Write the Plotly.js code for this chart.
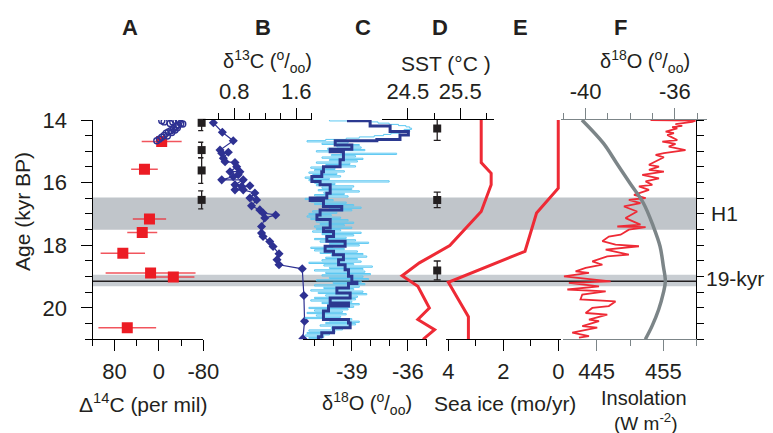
<!DOCTYPE html>
<html><head><meta charset="utf-8">
<script src="https://cdn.plot.ly/plotly-3.0.1.min.js"></script>
<style>html,body{margin:0;padding:0;background:#fff}#chart{width:773px;height:433px}</style>
</head><body><div id="chart"></div>
<script>
// ---------- DATA ----------
// Panel A: Delta14C (per mil)
const aAge = [14.69, 15.57, 17.16, 17.59, 18.25, 18.88, 19.01, 20.63];
const aD14C = [-5, 26, 17, 30, 65, 15, -26, 57];
const aErr = [36, 24, 30, 27, 40, 81, 38, 52];
const circAge = [14.66,14.61,14.55,14.49,14.42,14.38,14.34,14.28,14.21,14.16,14.11,14.13,14.04,14.02,14.06,14.11,14.02,14.06,14.32,14.40,14.51,14.25];
const circD14C = [3.8,-0.9,-5.2,-9.4,-13,-17.1,-21.4,-26.1,-30.9,-35.1,-39.4,-43,-36.9,-30.9,-25,-20.2,-5.2,-9.4,-29.1,-23.2,-15.3,-33.3];
// dating points (black squares)
const datAge = [14.09, 14.96, 15.61, 16.55];
const datErr = [0.25, 0.25, 0.41, 0.29];
const sstPtAge = [14.27, 16.55, 18.8];
const sstPtErr = [0.38, 0.25, 0.3];
const sstPtVal = [25.06, 25.06, 25.06];
// Panel B: d13C
const bAge = [14.09,14.39,14.66,14.96,15.06,15.03,15.22,15.33,15.36,15.49,15.65,15.65,15.75,15.81,15.91,15.91,16.07,16.12,16.10,16.23,16.23,16.33,16.49,16.55,16.74,16.87,16.97,17.03,17.13,17.40,17.61,17.72,17.88,18.04,18.27,18.46,18.62,18.75,19.60,20.42,20.98];
const bD13C = [0.530,0.646,0.787,0.616,0.638,0.723,0.659,0.681,0.809,0.831,0.745,0.873,0.851,0.787,0.638,0.916,0.809,0.895,1.002,0.809,0.916,1.066,1.002,1.088,1.023,1.130,1.172,1.335,1.194,1.152,1.152,1.172,1.258,1.301,1.378,1.352,1.378,1.678,1.699,1.708,1.686];
// Panel C: d18O high-res (cyan) and smoothed step (dark blue)
const cyanAge = [14.00,14.03,14.06,14.10,14.14,14.18,14.22,14.26,14.30,14.34,
14.38,14.42,14.46,14.50,14.54,14.58,14.62,14.66,14.70,14.74,
14.78,14.82,14.86,14.90,14.94,14.98,15.02,15.06,15.10,15.14,
15.18,15.22,15.26,15.30,15.34,15.38,15.42,15.46,15.50,15.54,
15.58,15.62,15.66,15.70,15.74,15.78,15.82,15.86,15.90,15.94,
15.98,16.02,16.06,16.10,16.14,16.18,16.22,16.26,16.30,16.34,
16.38,16.42,16.46,16.50,16.54,16.58,16.62,16.66,16.70,16.74,
16.78,16.82,16.86,16.90,16.94,16.98,17.02,17.06,17.10,17.14,
17.18,17.22,17.26,17.30,17.34,17.38,17.42,17.46,17.50,17.54,
17.58,17.62,17.66,17.70,17.74,17.78,17.82,17.86,17.90,17.94,
17.98,18.02,18.06,18.10,18.14,18.18,18.22,18.26,18.30,18.34,
18.38,18.42,18.46,18.50,18.54,18.58,18.62,18.66,18.70,18.74,
18.78,18.82,18.86,18.90,18.94,18.98,19.02,19.06,19.10,19.14,
19.18,19.22,19.26,19.30,19.34,19.38,19.42,19.46,19.50,19.54,
19.58,19.62,19.66,19.70,19.74,19.78,19.82,19.86,19.90,19.94,
19.98,20.02,20.06,20.10,20.14,20.18,20.22,20.26,20.30,20.34,
20.38,20.42,20.46,20.50,20.54,20.58,20.62,20.66,20.70,20.74,
20.78,20.82,20.86,20.90,20.94,20.98];
const cyanD18O = [-40.2,-38.1,-37.6,-37.0,-36.5,-36.1,-35.9,-35.8,-36.2,-35.9,
-36.4,-36.9,-37.3,-37.8,-38.6,-39.3,-40.4,-41.4,-39.2,-40.6,
-38.6,-39.8,-38.5,-40.3,-38.3,-40.9,-39.6,-36.6,-40.1,-38.8,
-40.6,-38.4,-40.2,-38.7,-40.9,-39.1,-40.4,-38.8,-41.2,-39.9,
-41.0,-39.4,-41.3,-39.8,-41.1,-39.6,-41.5,-40.2,-41.3,-37.0,
-41.0,-39.9,-40.9,-38.9,-40.6,-39.0,-40.8,-38.6,-40.5,-39.4,
-41.0,-39.2,-40.9,-41.5,-40.0,-41.2,-39.3,-41.0,-38.9,-40.6,
-38.5,-40.2,-39.0,-41.1,-39.8,-41.3,-40.1,-41.4,-39.6,-41.2,
-39.2,-40.9,-38.9,-40.7,-39.4,-41.0,-39.0,-40.9,-39.6,-41.1,
-38.5,-40.6,-38.9,-40.4,-39.3,-41.0,-38.8,-40.7,-38.1,-40.2,
-38.6,-40.0,-41.2,-39.4,-41.0,-38.7,-40.7,-38.4,-40.1,-38.2,
-40.4,-38.7,-40.6,-38.5,-41.3,-38.9,-40.5,-37.9,-40.2,-38.4,
-41.0,-38.3,-40.4,-38.0,-40.6,-38.4,-40.2,-38.1,-40.9,-38.5,
-40.0,-38.3,-41.0,-38.6,-40.5,-38.9,-41.2,-38.4,-40.8,-38.2,
-40.4,-38.7,-41.0,-38.8,-41.2,-39.0,-40.6,-38.6,-40.3,-38.9,
-41.3,-39.2,-41.0,-39.5,-41.4,-39.3,-40.9,-39.6,-41.5,-39.0,
-40.2,-38.6,-40.4,-38.8,-40.7,-39.1,-40.1,-39.5,-41.3,-39.9,
-41.4,-40.2,-41.5,-40.5,-41.3,-40.6];
const stepAge = [14.00,14.02,14.19,14.37,14.48,14.62,14.66,14.80,14.93,15.01,
15.27,15.49,15.65,15.80,15.96,16.07,16.34,16.49,16.57,16.76,
16.87,17.03,17.18,17.45,17.56,17.72,17.87,18.03,18.19,18.30,
18.46,18.62,18.78,18.99,19.18,19.22,19.36,19.52,19.68,19.84,
19.94,20.10,20.37,20.48,20.63,20.79,20.92,21.00];
const stepD18O = [-39.18,-38.02,-36.95,-35.97,-36.42,-37.66,-39.89,-39.00,-40.16,-39.45,
-39.63,-40.52,-40.61,-41.14,-40.70,-40.16,-40.34,-41.23,-40.52,-39.54,
-40.70,-40.87,-40.16,-40.52,-39.98,-40.34,-39.36,-40.43,-39.98,-39.45,
-39.71,-39.36,-39.18,-39.00,-38.73,-39.18,-39.80,-39.09,-40.16,-39.18,
-40.25,-40.52,-39.18,-39.09,-39.98,-40.61,-40.79,-40.79];
// Panel D: SST
const sstAge = [14.0, 15.36, 15.70, 16.07, 16.92, 18.01, 18.56, 18.97, 19.31, 20.0, 20.37, 20.69, 21.0];
const sstVal = [25.90, 25.90, 26.09, 26.09, 25.90, 25.30, 24.72, 24.39, 24.69, 24.91, 24.69, 25.01, 24.79];
// Panel E: sea ice
const iceAge = [14.0, 16.18, 16.97, 18.19, 19.18, 20.28, 21.0];
const iceVal = [0, 0, 0.79, 1.21, 4.0, 3.27, 3.27];
// Panel F: Greenland d18O and insolation
const fAge = [14.00,14.02,14.06,14.13,14.19,14.23,14.27,14.37,14.42,14.48,
14.53,14.64,14.69,14.76,14.85,14.96,15.06,15.11,15.19,15.27,
15.43,15.49,15.59,15.65,15.75,15.86,15.96,16.07,16.12,16.23,
16.39,16.49,16.55,16.65,16.76,16.92,17.03,17.13,17.34,17.40,
17.42,17.50,17.66,17.72,17.87,17.98,18.03,18.14,18.30,18.35,
18.51,18.62,18.72,18.83,18.88,18.99,19.15,19.20,19.31,19.41,
19.47,19.57,19.73,19.79,19.94,20.00,20.16,20.21,20.37,20.42,
20.58,20.63,20.79,20.90,20.95];
const fD18O = [-37.09,-35.07,-35.22,-35.97,-35.67,-36.12,-35.89,-36.41,-36.04,-36.34,
-36.19,-35.89,-36.56,-35.97,-36.27,-35.52,-36.49,-36.86,-36.49,-36.71,
-37.16,-36.71,-37.16,-36.49,-37.46,-36.71,-37.31,-37.01,-37.61,-37.16,
-37.83,-37.31,-38.06,-37.54,-38.28,-37.69,-37.98,-38.21,-37.54,-38.58,
-37.31,-38.06,-38.43,-38.96,-39.25,-38.66,-37.61,-39.10,-38.06,-39.03,
-39.70,-39.25,-40.00,-40.45,-39.85,-40.97,-38.88,-40.75,-39.40,-40.82,
-39.10,-40.15,-40.23,-38.66,-38.96,-39.70,-40.00,-39.03,-39.85,-39.40,
-40.15,-39.48,-40.60,-39.85,-40.30];
const insAge = [14.0, 14.74, 15.38, 16.02, 16.65, 17.40, 18.03, 18.67, 19.15, 19.52, 20.05, 20.58, 21.0];
const insVal = [442.8, 446.0, 448.0, 450.0, 452.0, 453.5, 454.5, 455.0, 455.3, 455.0, 454.3, 453.3, 452.3];
// events
const h1Band = [16.47, 17.5];
const k19Band = [18.94, 19.31];
const k19Line = 19.15;
// tick labels
const ageMajor = [14, 16, 18, 20];
const ageMinor = [14.5,15,15.5,16.5,17,17.5,18.5,19,19.5,20.5,21];

// ---------- LAYOUT HELPERS ----------
const W = 773, H = 433;
const px = v => v / W;
const py = v => 1 - v / H;
const RED = '#ee2a35', BLUE = '#2e3192', CYAN = '#5cc8f2', GREY = 'rgb(124,133,136)', TXT = '#231f20';
const FONT = 'Liberation Sans, Arial, Helvetica, sans-serif';

function xax(dom, range, side, major, minor, opts) {
  opts = opts || {};
  const col = opts.color || '#000';
  return Object.assign({
    domain: [px(dom[0]), px(dom[1])], range: range, anchor: 'y', side: side,
    showgrid: false, zeroline: false, showline: true, linecolor: col, linewidth: 1,
    ticks: 'outside', ticklen: 11, tickcolor: col, tickwidth: 1,
    tickmode: 'array', tickvals: major, ticktext: major.map(String),
    minor: {tickmode: 'array', tickvals: minor, ticklen: 6, ticks: 'outside', tickcolor: col, tickwidth: 1},
    tickfont: {size: 22, color: TXT, family: FONT},
    ticklabelstandoff: side === 'top' ? 0 : 1,
    fixedrange: true, automargin: false
  }, opts.extra || {});
}

const traces = [
  {x: aD14C, y: aAge, xaxis: 'x', yaxis: 'y', mode: 'markers', type: 'scatter',
   marker: {symbol: 'square', size: 11, color: '#ec1c24'},
   error_x: {type: 'data', array: aErr, color: 'rgba(238,42,53,0.8)', thickness: 1.5, width: 0}},
  {x: circD14C, y: circAge, xaxis: 'x', yaxis: 'y', mode: 'markers', type: 'scatter',
   marker: {symbol: 'circle-open', size: 6, color: BLUE, line: {width: 1.4, color: BLUE}}},
  {x: datAge.map(() => -77), y: datAge, xaxis: 'x', yaxis: 'y', mode: 'markers', type: 'scatter', cliponaxis: false,
   marker: {symbol: 'square', size: 8, color: '#231f20'},
   error_y: {type: 'data', array: datErr, color: '#231f20', thickness: 1.3, width: 3.5}},
  {x: bD13C, y: bAge, xaxis: 'x2', yaxis: 'y', mode: 'lines+markers', type: 'scatter',
   line: {color: BLUE, width: 1.2}, marker: {symbol: 'diamond', size: 7, color: BLUE}},
  {x: cyanD18O, y: cyanAge, xaxis: 'x3', yaxis: 'y', mode: 'lines', type: 'scatter',
   line: {color: CYAN, width: 1, shape: 'vh'}},
  {x: stepD18O, y: stepAge, xaxis: 'x3', yaxis: 'y', mode: 'lines', type: 'scatter',
   line: {color: '#2b3990', width: 3, shape: 'vh'}},
  {x: sstVal, y: sstAge, xaxis: 'x4', yaxis: 'y', mode: 'lines', type: 'scatter',
   line: {color: RED, width: 3}},
  {x: sstPtVal, y: sstPtAge, xaxis: 'x4', yaxis: 'y', mode: 'markers', type: 'scatter',
   marker: {symbol: 'square', size: 8, color: '#231f20'},
   error_y: {type: 'data', array: sstPtErr, color: '#231f20', thickness: 1.3, width: 3.5}},
  {x: iceVal, y: iceAge, xaxis: 'x5', yaxis: 'y', mode: 'lines', type: 'scatter',
   line: {color: RED, width: 3}},
  {x: insVal, y: insAge, xaxis: 'x7', yaxis: 'y', mode: 'lines', type: 'scatter',
   line: {color: GREY, width: 3.5, shape: 'spline'}},
  {x: fD18O, y: fAge, xaxis: 'x6', yaxis: 'y', mode: 'lines', type: 'scatter',
   line: {color: RED, width: 1.8}},
  {x: [null], y: [null], xaxis: 'x', yaxis: 'y2', mode: 'markers', type: 'scatter', hoverinfo: 'skip'}
];

function ann(text, x, y, size, extra) {
  return Object.assign({text: text, x: px(x), y: py(y), xref: 'paper', yref: 'paper',
    xanchor: 'center', yanchor: 'middle', showarrow: false,
    font: {size: size, color: TXT, family: FONT}}, extra || {});
}

const layout = {
  width: W, height: H, margin: {l: 0, r: 0, t: 0, b: 0},
  paper_bgcolor: '#fff', plot_bgcolor: 'rgba(0,0,0,0)', showlegend: false,
  font: {family: FONT, color: TXT},
  yaxis: {domain: [py(339.3), py(120)], range: [21, 14], anchor: 'free', position: px(92.3),
    showgrid: false, zeroline: false, showline: true, linecolor: '#000', linewidth: 1,
    ticks: 'outside', ticklen: 11, tickcolor: '#000', tickmode: 'array',
    tickvals: ageMajor, ticktext: ageMajor.map(String),
    minor: {tickmode: 'array', tickvals: ageMinor, ticklen: 7, ticks: 'outside', tickcolor: '#000'},
    tickfont: {size: 22, color: TXT, family: FONT}, ticklabelstandoff: 10,
    fixedrange: true, automargin: false},
  yaxis2: {overlaying: 'y', side: 'right', anchor: 'free', position: px(696), range: [21, 14],
    showgrid: false, zeroline: false, showline: true, linecolor: '#000', linewidth: 1,
    ticks: 'outside', ticklen: 7, tickcolor: '#000', tickmode: 'array',
    tickvals: ageMajor.concat(ageMinor), showticklabels: false, fixedrange: true, automargin: false},
  xaxis: xax([92.3, 203.3], [120, -80], 'bottom', [80, 0, -80], [120, 40, -40]),
  xaxis2: xax([203.3, 311.7], [0.4, 1.8], 'top', [0.8, 1.6], [0.6, 1.0, 1.2, 1.4, 1.8],
    {extra: {ticktext: ['0.8', '1.6']}}),
  xaxis3: xax([303.3, 426.5], [-41.6, -35], 'bottom', [-39, -36], [-41, -40, -38, -37, -35]),
  xaxis4: xax([381.7, 494.3], [24.0, 26.15], 'top', [24.5, 25.5], [25, 26]),
  xaxis5: xax([445.6, 561.0], [4.1, -0.1], 'bottom', [4, 2, 0], [3, 1]),
  xaxis6: xax([561.1, 706.7], [-41.1, -34.57], 'top', [-40, -36], [-41, -39, -38, -37, -35], {color: GREY}),
  xaxis7: xax([563.3, 696.7], [440, 460], 'bottom', [445, 455], [450, 460], {color: GREY}),
  shapes: [
    {type: 'rect', xref: 'paper', yref: 'y', x0: px(92.3), x1: px(696), y0: h1Band[0], y1: h1Band[1],
     fillcolor: 'rgb(192,197,202)', line: {width: 0}, layer: 'below'},
    {type: 'rect', xref: 'paper', yref: 'y', x0: px(92.3), x1: px(696), y0: k19Band[0], y1: k19Band[1],
     fillcolor: 'rgb(200,205,210)', line: {width: 0}, layer: 'below'},
    {type: 'line', xref: 'paper', yref: 'y', x0: px(92.3), x1: px(696), y0: k19Line, y1: k19Line,
     line: {color: '#231f20', width: 1.5}, layer: 'below'}
  ],
  annotations: [
    ann('<b>A</b>', 130, 27, 22), ann('<b>B</b>', 263, 27, 22), ann('<b>C</b>', 363, 27, 22),
    ann('<b>D</b>', 440, 27, 22), ann('<b>E</b>', 520, 27, 22), ann('<b>F</b>', 620, 27, 22),
    ann('δ<sup>13</sup>C (<sup>o</sup>/<sub>oo</sub>)', 267, 62, 20),
    ann('SST (°C )', 446, 63, 21),
    ann('δ<sup>18</sup>O (<sup>o</sup>/<sub>oo</sub>)', 645, 62, 20),
    ann('Δ<sup>14</sup>C (per mil)', 143, 403, 21),
    ann('δ<sup>18</sup>O (<sup>o</sup>/<sub>oo</sub>)', 367, 403, 20),
    ann('Sea ice (mo/yr)', 505, 403, 21),
    ann('Insolation', 644, 398, 20),
    ann('(W m<sup>-2</sup>)', 646, 422, 19),
    ann('Age (kyr BP)', 22, 212, 21, {textangle: -90}),
    ann('H1', 724, 213, 21),
    ann('19-kyr', 735, 278, 21)
  ]
};

Plotly.newPlot('chart', traces, layout, {displayModeBar: false, staticPlot: true});
</script></body></html>
